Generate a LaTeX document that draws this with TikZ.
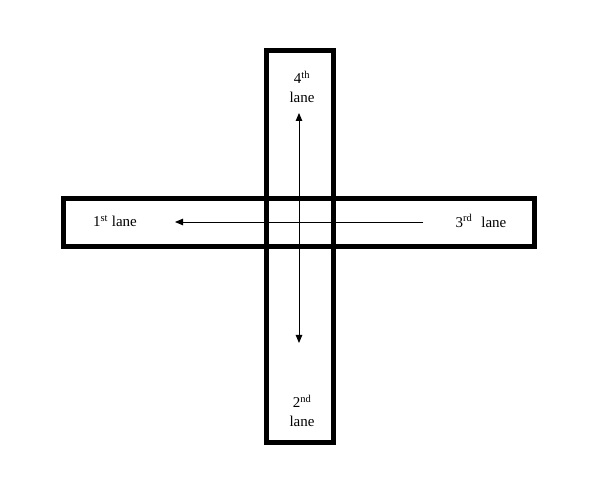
\documentclass[tikz,border=0pt]{standalone}
\usepackage{fontspec}
\setmainfont{Liberation Serif}
\usetikzlibrary{arrows.meta}
\tikzset{
  road/.style={draw, line width=5pt, inner sep=0pt, rectangle},
  lanelabel/.style={font=\fontsize{15}{18.5}\selectfont, align=center, inner sep=0pt},
  flow/.style={line width=0.9pt, -{Triangle[length=8pt,width=6.5pt]}}
}
\begin{document}
\begin{tikzpicture}[x=1pt,y=-1pt]
\useasboundingbox (0,0) rectangle (592,486);
\node[road, minimum width=67pt, minimum height=392pt] (vroad) at (300,246.5) {};
\node[road, minimum width=471pt, minimum height=48pt] (hroad) at (299,222.5) {};
\node[lanelabel] (fourth) at (302,87) {4\textsuperscript{th}\\lane};
\node[lanelabel] (second) at (302,411) {2\textsuperscript{nd}\\lane};
\node[lanelabel] (first) at (115,221) {1\textsuperscript{st} lane};
\node[lanelabel] (third) at (481,221) {3\textsuperscript{rd}\hspace{0.6em}lane};
\coordinate (top) at (299,113);
\coordinate (bottom) at (299,343);
\coordinate (east) at (423,222);
\coordinate (west) at (175,222);
\draw[flow, {Triangle[length=8pt,width=6.5pt]}-{Triangle[length=8pt,width=6.5pt]}] (top) -- (bottom);
\draw[flow] (east) -- (west);
\end{tikzpicture}
\end{document}
